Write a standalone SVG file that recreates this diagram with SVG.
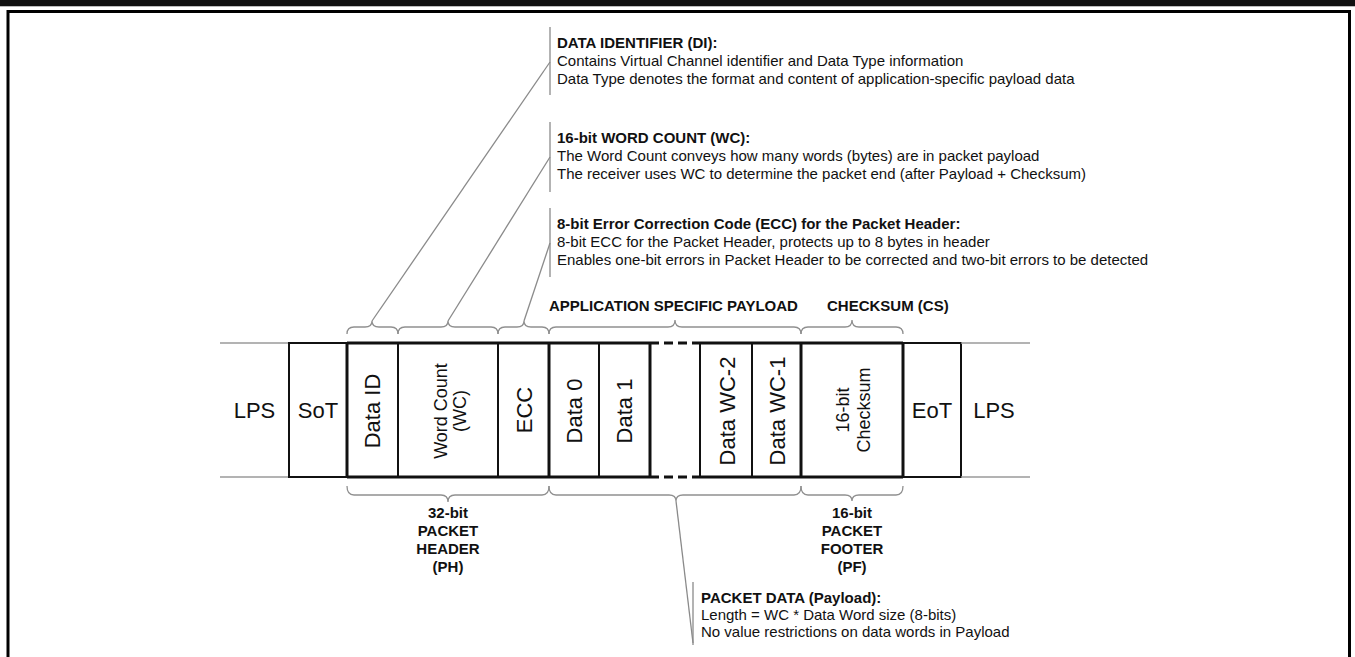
<svg xmlns="http://www.w3.org/2000/svg" width="1355" height="657" viewBox="0 0 1355 657">
<defs>
<style>
.t{font-family:"Liberation Sans",Arial,sans-serif;fill:#111;}
.s15{font-size:15px;}
.b{font-weight:bold;}
.big{font-size:22px;}
.mid{font-size:18px;}
.c{text-anchor:middle;}
.gray{stroke:#8a8a8a;stroke-width:1.3;fill:none;}
.brace{stroke:#909090;stroke-width:1.3;fill:none;}
.ext{stroke:#9a9a9a;stroke-width:1.6;fill:none;}
.thick{stroke:#111;stroke-width:3;fill:none;}
.med{stroke:#111;stroke-width:2;fill:none;}
</style>
</defs>
<rect x="0" y="0" width="1355" height="657" fill="#fff"/>
<!-- page frame -->
<rect x="0" y="0" width="1355" height="6" fill="#111"/>
<line x1="0" y1="6.5" x2="1355" y2="6.5" stroke="#bbb" stroke-width="1"/>
<path d="M8 660 V11.5 H1349.5 V660" fill="none" stroke="#000" stroke-width="3"/>

<g id="connectors">
<line class="gray" x1="372" y1="321" x2="550" y2="62"/>
<line class="gray" x1="448" y1="321" x2="550" y2="157"/>
<line class="gray" x1="524" y1="321" x2="550" y2="243"/>
<line class="gray" x1="676" y1="501" x2="693" y2="643"/>
<line class="gray" x1="550" y1="27" x2="550" y2="95"/>
<line class="gray" x1="550" y1="122" x2="550" y2="192"/>
<line class="gray" x1="550" y1="208" x2="550" y2="277"/>
<line class="gray" x1="693" y1="582" x2="693" y2="645"/>
</g>

<g id="braces">
<path class="brace" d="M347 334 C347 330,349 327,354 327 L365 327 C369 327,372 325,372 321 C372 325,375 327,379 327 L391 327 C396 327,398 330,398 334"/>
<path class="brace" d="M398 334 C398 330,400 327,405 327 L441 327 C445 327,448 325,448 321 C448 325,451 327,455 327 L491 327 C496 327,498 330,498 334"/>
<path class="brace" d="M498 334 C498 330,500 327,505 327 L517 327 C521 327,524 325,524 321 C524 325,527 327,531 327 L542 327 C547 327,549 330,549 334"/>
<path class="brace" d="M549 334 C549 330,551 327,556 327 L668 327 C672 327,675 325,675 320 C675 325,678 327,682 327 L794 327 C799 327,801 330,801 334"/>
<path class="brace" d="M801 334 C801 330,803 327,808 327 L845 327 C849 327,852 325,852 320 C852 325,855 327,859 327 L896 327 C901 327,903 330,903 334"/>
<path class="brace" d="M347 486 C347 491,349 495,354 495 L441 495 C445 495,448 497,448 502 C448 497,451 495,455 495 L542 495 C547 495,549 491,549 486"/>
<path class="brace" d="M549 486 C549 491,551 495,556 495 L669 495 C673 495,676 497,676 501 C676 497,679 495,683 495 L794 495 C799 495,801 491,801 486"/>
<path class="brace" d="M801 486 C801 491,803 495,808 495 L845 495 C849 495,852 497,852 501 C852 497,855 495,859 495 L896 495 C901 495,903 491,903 486"/>
</g>

<g id="lps-left">
<line class="ext" x1="220" y1="343" x2="289" y2="343"/>
<line class="ext" x1="220" y1="477" x2="289" y2="477"/>
<text class="t big c" x="254.5" y="418">LPS</text>
</g>
<g id="sot">
<rect class="med" x="289" y="343" width="58" height="134"/>
<text class="t big c" x="318" y="418">SoT</text>
</g>
<g id="packet-frame">
<path class="thick" d="M347 343 H650 M700 343 H903 M347 477 H650 M700 477 H903"/>
<path class="thick" d="M650 343 H700 M650 477 H700" stroke-dasharray="9 5"/>
<line class="thick" x1="347" y1="343" x2="347" y2="477"/>
<line class="thick" x1="549" y1="343" x2="549" y2="477"/>
<line class="thick" x1="650" y1="343" x2="650" y2="477"/>
<line class="thick" x1="801" y1="343" x2="801" y2="477"/>
<line class="thick" x1="903" y1="343" x2="903" y2="477"/>
<line class="med" x1="398" y1="343" x2="398" y2="477"/>
<line class="med" x1="498" y1="343" x2="498" y2="477"/>
<line class="med" x1="599" y1="343" x2="599" y2="477"/>
<line class="med" x1="700" y1="343" x2="700" y2="477"/>
<line class="med" x1="752" y1="343" x2="752" y2="477"/>
</g>
<g id="data-id"><text class="t big c" transform="translate(380,411) rotate(-90)">Data ID</text></g>
<g id="word-count"><text class="t mid c" transform="translate(447,411) rotate(-90)"><tspan x="0" y="0">Word Count</tspan><tspan x="0" y="19">(WC)</tspan></text></g>
<g id="ecc"><text class="t big c" transform="translate(532,410) rotate(-90)">ECC</text></g>
<g id="data0"><text class="t big c" transform="translate(582,411) rotate(-90)">Data 0</text></g>
<g id="data1"><text class="t big c" transform="translate(632,411) rotate(-90)">Data 1</text></g>
<g id="data-wc2"><text class="t big c" transform="translate(735,411) rotate(-90)">Data WC-2</text></g>
<g id="data-wc1"><text class="t big c" transform="translate(785,411) rotate(-90)">Data WC-1</text></g>
<g id="checksum"><text class="t mid c" transform="translate(849,410) rotate(-90)"><tspan x="0" y="0">16-bit</tspan><tspan x="0" y="21">Checksum</tspan></text></g>
<g id="eot">
<rect class="med" x="903" y="343" width="58" height="134"/>
<text class="t big c" x="932" y="418">EoT</text>
</g>
<g id="lps-right">
<line class="ext" x1="961" y1="343" x2="1030" y2="343"/>
<line class="ext" x1="961" y1="477" x2="1030" y2="477"/>
<text class="t big c" x="994" y="418">LPS</text>
</g>

<g id="di-note">
<text class="t s15" x="557"><tspan class="b" x="557" y="48">DATA IDENTIFIER (DI):</tspan><tspan x="557" y="66">Contains Virtual Channel identifier and Data Type information</tspan><tspan x="557" y="84">Data Type denotes the format and content of application-specific payload data</tspan></text>
</g>
<g id="wc-note">
<text class="t s15" x="557"><tspan class="b" x="557" y="143">16-bit WORD COUNT (WC):</tspan><tspan x="557" y="161">The Word Count conveys how many words (bytes) are in packet payload</tspan><tspan x="557" y="179">The receiver uses WC to determine the packet end (after Payload + Checksum)</tspan></text>
</g>
<g id="ecc-note">
<text class="t s15" x="557"><tspan class="b" x="557" y="229">8-bit Error Correction Code (ECC) for the Packet Header:</tspan><tspan x="557" y="247">8-bit ECC for the Packet Header, protects up to 8 bytes in header</tspan><tspan x="557" y="265">Enables one-bit errors in Packet Header to be corrected and two-bit errors to be detected</tspan></text>
</g>
<g id="payload-label"><text class="t s15 b" x="549" y="310.5">APPLICATION SPECIFIC PAYLOAD</text></g>
<g id="cs-label"><text class="t s15 b" x="827" y="310.5">CHECKSUM (CS)</text></g>
<g id="ph-label">
<text class="t s15 b c"><tspan x="448" y="518">32-bit</tspan><tspan x="448" y="536">PACKET</tspan><tspan x="448" y="554">HEADER</tspan><tspan x="448" y="572">(PH)</tspan></text>
</g>
<g id="pf-label">
<text class="t s15 b c"><tspan x="852" y="518">16-bit</tspan><tspan x="852" y="536">PACKET</tspan><tspan x="852" y="554">FOOTER</tspan><tspan x="852" y="572">(PF)</tspan></text>
</g>
<g id="pd-note">
<text class="t s15"><tspan class="b" x="701" y="603">PACKET DATA (Payload):</tspan><tspan x="701" y="620">Length = WC * Data Word size (8-bits)</tspan><tspan x="701" y="637">No value restrictions on data words in Payload</tspan></text>
</g>
</svg>
